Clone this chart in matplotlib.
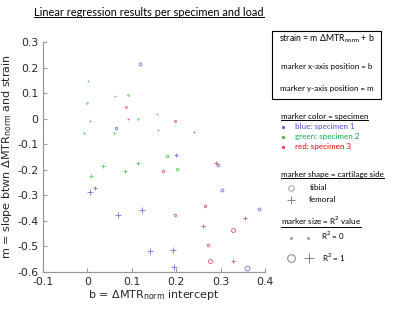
import matplotlib.pyplot as plt
from matplotlib.lines import Line2D
from matplotlib.patches import Rectangle

# specimen 1 (blue)
b1 = [0.119, 0.064, 0.200, 0.294, 0.304, 0.006, 0.016, 0.387, 0.069, 0.123, 0.140, 0.192, 0.194, 0.359]
m1 = [0.214, -0.037, -0.142, -0.181, -0.279, -0.285, -0.272, -0.355, -0.375, -0.359, -0.517, -0.512, -0.581, -0.586]
side1 = ["t", "t", "f", "t", "t", "f", "f", "t", "f", "f", "f", "f", "f", "t"]
r2_1 = [0.35, 0.25, 0.3, 0.3, 0.35, 0.65, 0.5, 0.35, 0.8, 0.65, 0.75, 0.75, 0.85, 0.8]

# specimen 2 (green)
b2 = [0.002, 0.000, 0.063, 0.092, 0.156, 0.115, 0.006, -0.007, 0.060, 0.160, 0.179, 0.201, 0.114, 0.085, 0.036, 0.009]
m2 = [0.147, 0.062, 0.087, 0.092, 0.017, 0.000, -0.009, -0.056, -0.058, -0.044, -0.148, -0.197, -0.174, -0.205, -0.187, -0.223]
side2 = ["f", "t", "f", "t", "f", "t", "f", "t", "t", "f", "t", "t", "f", "f", "f", "f"]
r2_2 = [0.05, 0.05, 0.05, 0.1, 0.05, 0.05, 0.05, 0.02, 0.05, 0.05, 0.3, 0.3, 0.3, 0.3, 0.3, 0.3]

# specimen 3 (red)
b3 = [0.087, 0.092, 0.197, 0.241, 0.170, 0.290, 0.264, 0.198, 0.355, 0.261, 0.328, 0.272, 0.277, 0.328]
m3 = [0.046, 0.000, -0.009, -0.054, -0.205, -0.175, -0.341, -0.375, -0.389, -0.419, -0.436, -0.493, -0.555, -0.555]
side3 = ["t", "f", "t", "f", "t", "f", "t", "t", "f", "f", "t", "t", "t", "f"]
r2_3 = [0.1, 0.1, 0.15, 0.15, 0.25, 0.3, 0.25, 0.25, 0.35, 0.45, 0.6, 0.3, 0.6, 0.55]

xticks = [-0.1, 0, 0.1, 0.2, 0.3, 0.4]
yticks = [0.3, 0.2, 0.1, 0, -0.1, -0.2, -0.3, -0.4, -0.5, -0.6]

blue = "#6464d8"
green = "#46c846"
red = "#dc4660"

W, H = 400, 315
fig = plt.figure(figsize=(4, 3.15), dpi=100)
ax = fig.add_axes([43 / W, 1 - 272 / H, 222 / W, 230 / H])


def ms(r2):
    return 1.0 + 3.6 * r2


for bs, ms_, sides, r2s, c in [(b1, m1, side1, r2_1, blue), (b2, m2, side2, r2_2, green), (b3, m3, side3, r2_3, red)]:
    for x, y, s, r in zip(bs, ms_, sides, r2s):
        if s == "t":
            ax.plot(x, y, "o", mfc="none", mec=c, ms=ms(r) * 0.9, mew=0.7, alpha=0.8)
        else:
            ax.plot(x, y, "+", color=c, ms=ms(r) * 1.1, mew=0.7, alpha=0.8)

ax.set_xlim(-0.1, 0.4)
ax.set_ylim(-0.6, 0.3)
ax.set_xticks(xticks)
ax.set_yticks(yticks)
ax.set_xticklabels(["-0.1", "0", "0.1", "0.2", "0.3", "0.4"])
ax.set_yticklabels(["0.3", "0.2", "0.1", "0", "-0.1", "-0.2", "-0.3", "-0.4", "-0.5", "-0.6"])
ax.tick_params(direction="in", length=3, width=0.8, labelsize=7.8, colors="#262626")
ax.tick_params(color="#999999")
for sp in ["top", "right"]:
    ax.spines[sp].set_visible(False)
for sp in ["left", "bottom"]:
    ax.spines[sp].set_color("#999999")
    ax.spines[sp].set_linewidth(0.9)
ax.set_xlabel(r"b = ΔMTR$_{\mathregular{norm}}$ intercept", fontsize=8, color="#262626", labelpad=1)
ax.set_ylabel(r"m = slope btwn ΔMTR$_{\mathregular{norm}}$ and strain", fontsize=8, color="#262626", labelpad=2)


# annotation text (pixel positions converted to figure fraction)
def fx(px):
    return px / W


def fy(py):
    return 1 - py / H


renderer = fig.canvas.get_renderer()


def underlined(x, y, s, size, ha="left", color="black", family="Lato"):
    t = fig.text(x, y, s, fontsize=size, ha=ha, va="center", color=color, family=family)
    bb = t.get_window_extent(renderer=renderer).transformed(fig.transFigure.inverted())
    fig.add_artist(Line2D([bb.x0, bb.x1], [bb.y0 + 0.002, bb.y0 + 0.002], color=color, lw=0.7))
    return t


underlined(fx(149), fy(12), "Linear regression results per specimen and load", 7.9, ha="center")

fig.add_artist(Rectangle((fx(272), fy(99)), fx(381) - fx(272), fy(31) - fy(99),
                         fill=False, ec="black", lw=0.8, transform=fig.transFigure))
fig.text(fx(327), fy(39), r"strain = m ΔMTR$_{\mathregular{norm}}$ + b", fontsize=6.3, ha="center", va="center", family="Lato")
fig.text(fx(327), fy(66), "marker x-axis position = b", fontsize=5.8, ha="center", va="center", family="Lato")
fig.text(fx(327), fy(88), "marker y-axis position = m", fontsize=5.8, ha="center", va="center", family="Lato")

underlined(fx(281), fy(117), "marker color = specimen", 5.8)
for py, c, tc, lab in [(127, blue, "#5050e0", "blue: specimen 1"), (137, green, "#00b050", "green: specimen 2"),
                       (147, red, "#e00000", "red: specimen 3")]:
    fig.add_artist(Line2D([fx(283)], [fy(py)], marker="s", ms=1.2, color=c, lw=0))
    fig.text(fx(295), fy(py), lab, fontsize=5.8, color=tc, va="center", family="Lato")

underlined(fx(281), fy(175), "marker shape = cartilage side", 5.8)
fig.add_artist(Line2D([fx(291)], [fy(188)], marker="o", ms=4, mfc="none", mec="#a0a0a0", mew=0.7, lw=0))
fig.text(fx(310), fy(188), "tibial", fontsize=5.8, va="center", family="Lato")
fig.add_artist(Line2D([fx(291)], [fy(200)], marker="+", ms=6, color="#808080", mew=0.7, lw=0))
fig.text(fx(309), fy(200), "femoral", fontsize=5.8, va="center", family="Lato")

underlined(fx(281), fy(221), "marker size = R$^2$ value", 5.8)
for px in [291, 308]:
    fig.add_artist(Line2D([fx(px)], [fy(238)], marker="s", ms=0.8, color="#808080", lw=0))
fig.text(fx(321), fy(236), "R$^2$ = 0", fontsize=5.8, va="center", family="Lato")
fig.add_artist(Line2D([fx(291)], [fy(258)], marker="o", ms=5.5, mfc="none", mec="#808080", mew=0.7, lw=0))
fig.add_artist(Line2D([fx(309)], [fy(258)], marker="+", ms=7, color="#808080", mew=0.7, lw=0))
fig.text(fx(322), fy(258), "R$^2$ = 1", fontsize=5.8, va="center", family="Lato")

fig.savefig("out.png", dpi=100)
